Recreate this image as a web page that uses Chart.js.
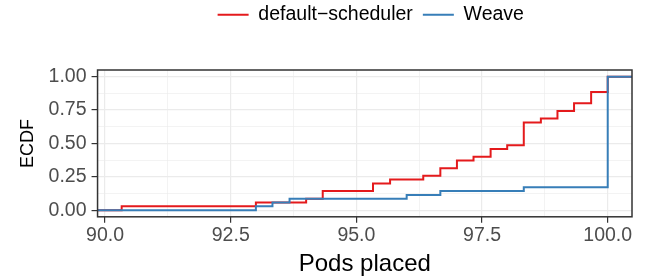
<!DOCTYPE html>
<html><head><meta charset="utf-8">
<script src="https://cdn.jsdelivr.net/npm/chart.js@4.4.1/dist/chart.umd.min.js"></script>
<style>html,body{margin:0;padding:0;background:#fff;}canvas{display:block;}</style>
</head><body>
<canvas id="c" width="646" height="279"></canvas>
<script>
// ---- data ----
const seriesNames = ['default\u2212scheduler', 'Weave'];
const defaultPods = [90.33, 93.0, 94.0, 94.33, 95.33, 95.67, 96.33, 96.67, 97.0, 97.33, 97.67, 98.0, 98.33, 98.67, 99.0, 99.33, 99.67, 100.0];
const defaultCounts = [1, 1, 1, 2, 2, 1, 1, 2, 2, 1, 2, 1, 6, 1, 2, 2, 3, 4];
const weavePods = [93.0, 93.33, 93.67, 96.0, 96.67, 98.33, 100.0];
const weaveCounts = [1, 1, 1, 1, 1, 1, 29];
const xTickLabels = [90, 92.5, 95, 97.5, 100];
const yTickLabels = [0, 0.25, 0.5, 0.75, 1];

// ---- styling / scale limits ----
const X_MIN = 89.85, X_MAX = 100.483, Y_MIN = -0.05, Y_MAX = 1.05;
const FONT = "'Liberation Sans', Arial, Helvetica, sans-serif";
const RED = '#E41A1C', BLUE = '#377EB8';

function ecdfPoints(values, counts) {
  const n = counts.reduce((a, b) => a + b, 0);
  const pts = [{x: X_MIN, y: 0}];
  let cum = 0;
  values.forEach((v, i) => { cum += counts[i]; pts.push({x: v, y: cum / n}); });
  pts.push({x: X_MAX, y: 1});
  return pts;
}
function withMinor(majors) {
  const out = [];
  majors.forEach((v, i) => {
    out.push(v);
    if (i < majors.length - 1) out.push((v + majors[i + 1]) / 2);
  });
  return out;
}
const isMajor = (list, v) => list.some(m => Math.abs(m - v) < 1e-9);

const xAll = withMinor(xTickLabels);
const yAll = withMinor(yTickLabels);

const panelBorder = {
  id: 'panelBorder',
  afterDatasetsDraw(chart) {
    const {ctx, chartArea: a} = chart;
    ctx.save();
    ctx.strokeStyle = '#333333';
    ctx.lineWidth = 1.5;
    ctx.strokeRect(a.left, a.top, a.right - a.left, a.bottom - a.top);
    ctx.restore();
  }
};
const legendGap = {
  id: 'legendGap',
  beforeLayout(chart) {
    const lg = chart.legend;
    if (lg && !lg._gapPatched) {
      lg._gapPatched = true;
      const origFit = lg.fit;
      lg.fit = function () { origFit.call(this); this.height = 75; };
    }
  },
  afterLayout(chart) {
    const lg = chart.legend;
    if (lg) { lg.left += 6; lg.right += 6; }
  }
};

new Chart(document.getElementById('c'), {
  type: 'line',
  data: {
    datasets: [
      {label: seriesNames[0], data: ecdfPoints(defaultPods, defaultCounts), borderColor: RED, backgroundColor: RED,
       borderWidth: 2, pointRadius: 0, stepped: true, fill: false, order: 2},
      {label: seriesNames[1], data: ecdfPoints(weavePods, weaveCounts), borderColor: BLUE, backgroundColor: BLUE,
       borderWidth: 2, pointRadius: 0, stepped: true, fill: false, order: 1}
    ]
  },
  options: {
    responsive: false,
    animation: false,
    devicePixelRatio: 1,
    layout: {padding: {top: -5, left: 0, right: 14, bottom: 0}},
    plugins: {
      tooltip: {enabled: false},
      legend: {
        position: 'top', align: 'center', fullSize: false,
        labels: {
          boxWidth: 31, boxHeight: 2, padding: 10, color: '#000000',
          font: {family: FONT, size: 19.5},
          generateLabels: chart => chart.data.datasets.map((ds, i) => ({
            text: ds.label, fillStyle: ds.borderColor, strokeStyle: ds.borderColor,
            lineWidth: 0, hidden: false, datasetIndex: i, fontColor: '#000000'
          }))
        }
      }
    },
    scales: {
      x: {
        type: 'linear', min: X_MIN, max: X_MAX,
        afterBuildTicks: axis => { axis.ticks = xAll.map(v => ({value: v})); },
        ticks: {
          autoSkip: false, maxRotation: 0, padding: 1, color: '#4D4D4D',
          font: {family: FONT, size: 19.5},
          callback: v => isMajor(xTickLabels, v) ? v.toFixed(1) : ''
        },
        grid: {
          color: '#EBEBEB',
          lineWidth: c => (c.tick && isMajor(xTickLabels, c.tick.value)) ? 1.2 : 0.6,
          tickLength: 6,
          tickWidth: 1.2,
          tickColor: c => (c.tick && isMajor(xTickLabels, c.tick.value)) ? '#333333' : 'rgba(0,0,0,0)'
        },
        border: {display: false},
        title: {display: true, text: 'Pods placed', color: '#000000', font: {family: FONT, size: 24}, padding: {top: 2, bottom: 0}}
      },
      y: {
        type: 'linear', min: Y_MIN, max: Y_MAX,
        afterBuildTicks: axis => { axis.ticks = yAll.map(v => ({value: v})); },
        ticks: {
          autoSkip: false, padding: 5, color: '#4D4D4D',
          font: {family: FONT, size: 19.5},
          callback: v => isMajor(yTickLabels, v) ? v.toFixed(2) : ''
        },
        grid: {
          color: '#EBEBEB',
          lineWidth: c => (c.tick && isMajor(yTickLabels, c.tick.value)) ? 1.2 : 0.6,
          tickLength: 6,
          tickWidth: 1.2,
          tickColor: c => (c.tick && isMajor(yTickLabels, c.tick.value)) ? '#333333' : 'rgba(0,0,0,0)'
        },
        border: {display: false},
        title: {display: true, text: 'ECDF', color: '#000000', font: {family: FONT, size: 18}, padding: {top: 17, bottom: 5}}
      }
    }
  },
  plugins: [panelBorder, legendGap]
});
</script>
</body></html>
